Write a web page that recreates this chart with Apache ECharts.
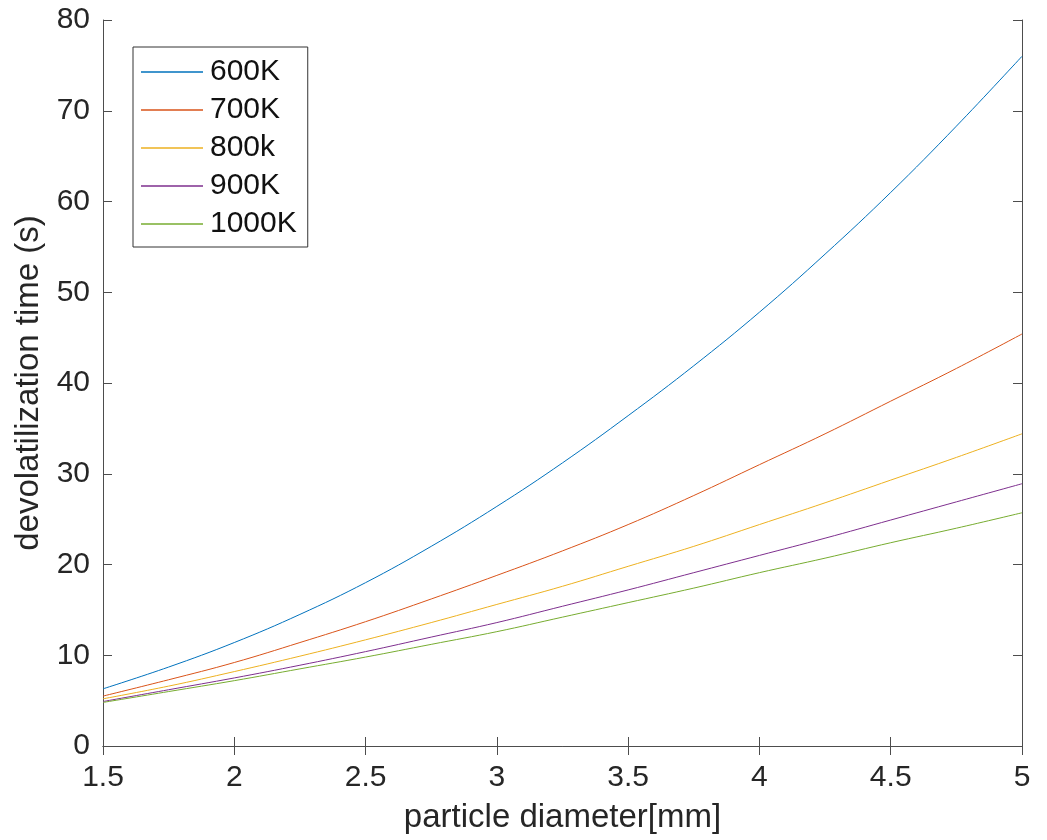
<!DOCTYPE html>
<html>
<head>
<meta charset="utf-8">
<script src="https://cdn.jsdelivr.net/npm/echarts@6/dist/echarts.min.js"></script>
<style>
  html, body { margin: 0; padding: 0; background: #fff; }
  #chart { width: 1047px; height: 840px; }
</style>
</head>
<body>
<div id="chart"></div>
<script>
  // particle diameter [mm]
  var diameters = [1.5, 1.75, 2, 2.25, 2.5, 2.75, 3, 3.25, 3.5, 3.75, 4, 4.25, 4.5, 4.75, 5];

  // devolatilization time (s)
  var t600  = [6.3, 8.7, 11.4, 14.5, 18.0, 22.0, 26.4, 31.2, 36.4, 41.9, 47.8, 54.2, 61.0, 68.3, 76.0];
  var t700  = [5.5, 7.3, 9.2, 11.4, 13.7, 16.2, 18.8, 21.5, 24.4, 27.6, 31.0, 34.4, 38.0, 41.6, 45.4];
  var t800  = [5.2, 6.6, 8.2, 9.9, 11.7, 13.6, 15.6, 17.6, 19.8, 22.0, 24.4, 26.8, 29.3, 31.8, 34.4];
  var t900  = [4.9, 6.2, 7.5, 8.9, 10.4, 12.0, 13.6, 15.4, 17.2, 19.1, 21.0, 22.9, 24.9, 26.9, 28.9];
  var t1000 = [4.8, 6.0, 7.2, 8.5, 9.8, 11.2, 12.6, 14.2, 15.8, 17.4, 19.1, 20.7, 22.4, 24.0, 25.7];

  var seriesNames = ['600K', '700K', '800k', '900K', '1000K'];
  var seriesData = [t600, t700, t800, t900, t1000];
  var COLORS = ['#0072BD', '#D95319', '#EDB120', '#7E2F8E', '#77AC30'];

  var FONT = '"Helvetica Neue", "Liberation Sans", Arial, sans-serif';
  var AXIS_COLOR = '#4d4d4d';
  var TEXT_COLOR = '#262626';

  function pairs(ys) {
    return diameters.map(function(x, i) { return [x, ys[i]]; });
  }

  var chart = echarts.init(document.getElementById('chart'));

  var axisLine = { show: true, lineStyle: { color: AXIS_COLOR, width: 1 } };
  var tickIn = { show: true, inside: true, length: 9, lineStyle: { color: AXIS_COLOR } };

  chart.setOption({
    animation: false,
    color: COLORS,
    textStyle: { fontFamily: FONT },
    grid: { left: 103, right: 25, top: 20, bottom: 94, containLabel: false },
    legend: {
      orient: 'vertical',
      left: 133,
      top: 47,
      padding: [10, 11, 8, 8],
      itemGap: 8,
      itemWidth: 62,
      itemHeight: 1.5,
      icon: 'rect',
      borderColor: '#333',
      borderWidth: 1,
      backgroundColor: '#fff',
      textStyle: { fontSize: 30, color: '#111', fontFamily: FONT, padding: [0, 0, 0, 2] },
      data: seriesNames
    },
    xAxis: [{
      type: 'value',
      min: 1.5,
      max: 5,
      interval: 0.5,
      name: 'particle diameter[mm]',
      nameLocation: 'middle',
      nameGap: 55,
      nameTextStyle: { fontSize: 33, color: TEXT_COLOR, fontFamily: FONT },
      axisLine: axisLine,
      axisTick: tickIn,
      axisLabel: { fontSize: 30, color: TEXT_COLOR, margin: 17, fontFamily: FONT },
      splitLine: { show: false }
    }, {
      type: 'value',
      position: 'top',
      min: 1.5,
      max: 5,
      interval: 0.5,
      axisLine: axisLine,
      axisTick: tickIn,
      axisLabel: { show: false },
      splitLine: { show: false }
    }],
    yAxis: [{
      type: 'value',
      min: 0,
      max: 80,
      interval: 10,
      name: 'devolatilization time (s)',
      nameLocation: 'middle',
      nameGap: 57,
      nameTextStyle: { fontSize: 33, color: TEXT_COLOR, fontFamily: FONT },
      axisLine: axisLine,
      axisTick: tickIn,
      axisLabel: { fontSize: 30, color: TEXT_COLOR, margin: 13, fontFamily: FONT },
      splitLine: { show: false }
    }, {
      type: 'value',
      position: 'right',
      min: 0,
      max: 80,
      interval: 10,
      axisLine: axisLine,
      axisTick: tickIn,
      axisLabel: { show: false },
      splitLine: { show: false }
    }],
    series: seriesNames.map(function(name, i) {
      return {
        name: name,
        type: 'line',
        smooth: 0.4,
        symbol: 'none',
        xAxisIndex: 0,
        yAxisIndex: 0,
        lineStyle: { width: 1, color: COLORS[i] },
        itemStyle: { color: COLORS[i] },
        data: pairs(seriesData[i])
      };
    })
  });
</script>
</body>
</html>
